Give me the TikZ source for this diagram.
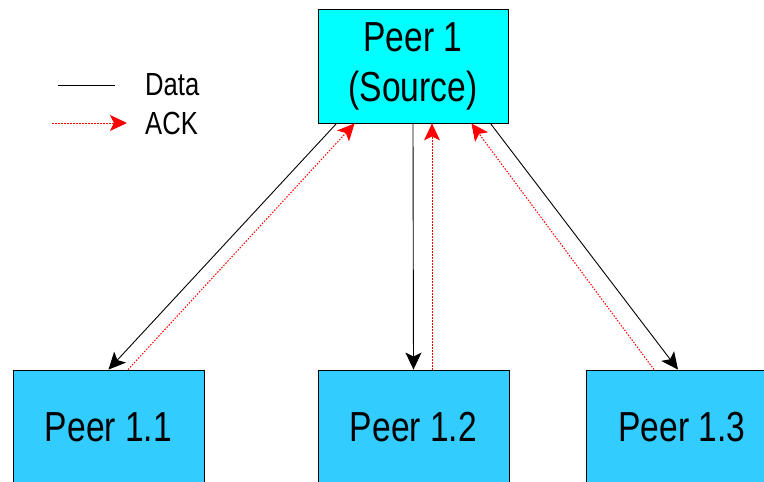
\documentclass[tikz,border=0pt]{standalone}
\usepackage{fontspec}
\setmainfont{Liberation Sans}[FakeStretch=0.8]
\usepackage{tikz}
\usetikzlibrary{arrows.meta, shapes, backgrounds}

\definecolor{sourcecyan}{HTML}{00FFFF}
\definecolor{peerblue}{HTML}{33CCFF}
\definecolor{ackred}{HTML}{FF0000}

\begin{document}
\begin{tikzpicture}[x=1pt, y=-1pt]
            \useasboundingbox (0,0) rectangle (764,482);
            \begin{scope}[every node/.style={rectangle,draw=black,line width=0.8pt,inner sep=0pt,
                          font=\fontsize{42}{50}\selectfont,align=center}]
                \node[fill=sourcecyan, minimum width=190pt, minimum height=114pt] (src) at (413,66) {Peer 1\\(Source)};
                \node[fill=peerblue, minimum width=191pt, minimum height=114pt] (p11) at (108.5,427) {Peer 1.1};
                \node[fill=peerblue, minimum width=191pt, minimum height=114pt] (p12) at (413.5,427) {Peer 1.2};
                \node[fill=peerblue, minimum width=191pt, minimum height=114pt] (p13) at (682,427) {Peer 1.3};
            \end{scope}

            % legend
            \coordinate (dataA) at (58,85);
            \coordinate (dataB) at (115,85);
            \coordinate (ackA) at (52,123);
            \coordinate (ackB) at (127,123);
            \node[anchor=west, inner sep=0pt, font=\fontsize{32}{36}\selectfont] (dataL) at (145,85) {Data};
            \node[anchor=west, inner sep=0pt, font=\fontsize{32}{36}\selectfont] (ackL) at (145,123) {ACK};

            \begin{scope}[>={Stealth[length=17pt,width=16pt,inset=4pt]},
                          every edge/.style={draw=black, line width=0.9pt}]
                \path (dataA) edge (dataB);
                \path[->] ([xshift=19pt]src.south west) edge (p11.north);
                \path[->] (src.south) edge (p12.north);
                \path[->] ([xshift=-18pt]src.south east) edge ([xshift=-4pt]p13.north);
            \end{scope}
            \begin{scope}[>={Stealth[length=17pt,width=16pt,inset=4pt,ackred]},
                          every edge/.style={draw=ackred, line width=1pt, dash pattern=on 1.5pt off 1.5pt}]
                \path[->] (ackA) edge (ackB);
                \path[->] ([xshift=19.5pt]p11.north) edge ([xshift=37pt]src.south west);
                \path[->] ([xshift=18.5pt]p12.north) edge ([xshift=19pt]src.south);
                \path[->] ([xshift=-28pt]p13.north) edge ([xshift=-37pt]src.south east);
            \end{scope}

            \end{tikzpicture}
\end{document}
